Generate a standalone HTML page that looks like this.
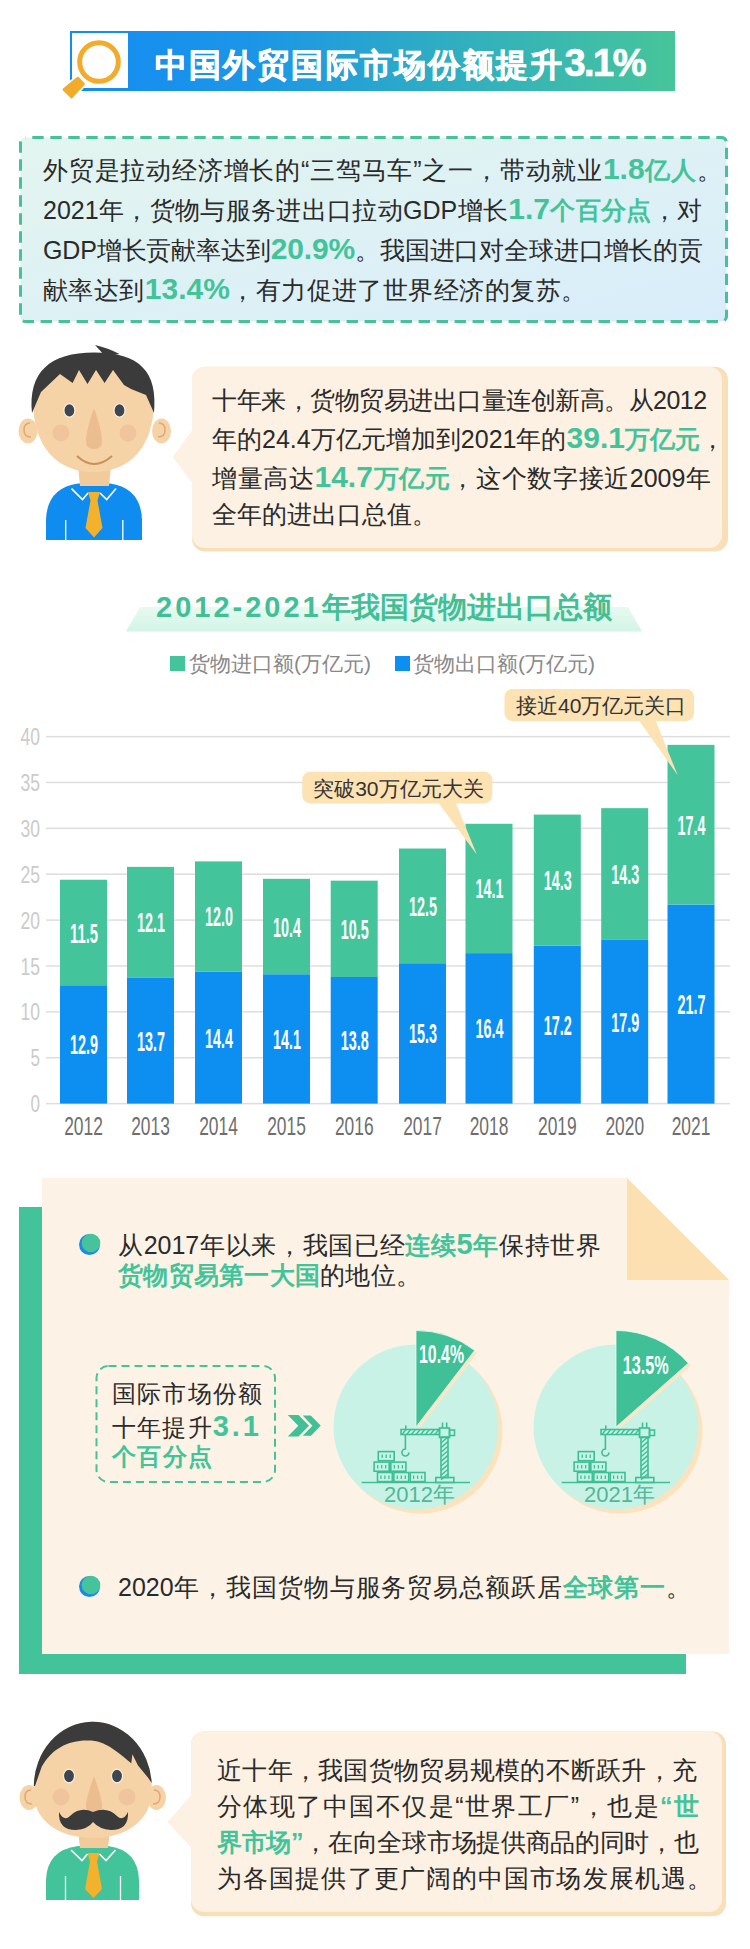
<!DOCTYPE html>
<html><head><meta charset="utf-8">
<style>
*{margin:0;padding:0;box-sizing:border-box}
html,body{width:750px;height:1949px;overflow:hidden;background:#fff}
body{position:relative;font-family:"Liberation Sans",sans-serif;color:#2a2a2a}
.abs{position:absolute}
.ln{position:absolute;white-space:nowrap;text-align:justify;text-align-last:justify;line-height:1}
.g{color:#43c39a;font-weight:bold}
svg text{font-family:"Liberation Sans",sans-serif}
</style></head><body>
<!-- TITLE -->
<div class="abs" style="left:70px;top:31px;width:605px;height:60px;background:linear-gradient(90deg,#138cf2 0%,#1c95e8 30%,#2eacc4 60%,#46c59a 100%)"></div>
<div class="abs" style="left:72px;top:33px;width:56px;height:55px;background:#fff"></div>
<svg class="abs" style="left:0;top:0" width="750" height="110">
  <polygon points="77.8,78 83.6,83.8 71.5,97.2 63.8,89.5" fill="#fff" stroke="#fff" stroke-width="6" stroke-linejoin="round"/>
  <polygon points="77.8,78 83.6,83.8 71.5,97.2 63.8,89.5" fill="#f2ab2a" stroke="#f2ab2a" stroke-width="2.5" stroke-linejoin="round"/>
  <circle cx="99" cy="62" r="19.3" fill="none" stroke="#f2ab2a" stroke-width="5"/>
</svg>
<div class="ln" style="left:155px;top:44px;width:490px;font-size:32px;font-weight:bold;color:#fff;-webkit-text-stroke:0.7px #fff">中国外贸国际市场份额提升<span style="font-size:38px;letter-spacing:-1.5px">3.1%</span></div>

<!-- BOX 1 -->
<svg class="abs" style="left:0;top:120px" width="750" height="220">
  <defs><linearGradient id="bg1" x1="0" y1="0" x2="1" y2="1"><stop offset="0" stop-color="#e3f5ef"/><stop offset="1" stop-color="#d8edfa"/></linearGradient></defs>
  <rect x="20.5" y="17.5" width="706" height="184" rx="5" fill="url(#bg1)" stroke="#46c29a" stroke-width="3" stroke-dasharray="11.4 6.6" stroke-dashoffset="-6.8"/>
</svg>
<div class="ln" style="left:43px;top:153.5px;width:679px;font-size:25px">外贸是拉动经济增长的“三驾马车”之一，带动就业<span class="g" style="font-size:30px">1.8</span><span class="g">亿人</span>。</div>
<div class="ln" style="left:43px;top:193.5px;width:659px;font-size:25px">2021年，货物与服务进出口拉动GDP增长<span class="g" style="font-size:30px">1.7</span><span class="g">个百分点</span>，对</div>
<div class="ln" style="left:43px;top:233.5px;width:660px;letter-spacing:-0.15px;font-size:25px">GDP增长贡献率达到<span class="g" style="font-size:30px">20.9%</span>。我国进口对全球进口增长的贡</div>
<div class="ln" style="left:43px;top:273.5px;width:543px;font-size:25px">献率达到<span class="g" style="font-size:30px">13.4%</span>，有力促进了世界经济的复苏。</div>
<!-- AVATAR 1 -->
<svg class="abs" style="left:0;top:330px" width="190" height="230" viewBox="0 330 190 230">
  <!-- shirt -->
  <path d="M46,540 L46,520 Q47,488 78,483.5 L110,483.5 Q141,488 142,520 L142,540 Z" fill="#0f8cf0"/>
  <path d="M78,466 L111,466 L109,486 L80,486 Z" fill="#f1cb9c"/>
  <path d="M71.5,488.6 L82.5,499.6 L88,493 M100,493 L106.7,499.6 L116,488.6" fill="none" stroke="#fff" stroke-width="1.6"/>
  <path d="M88,492 L100,492 L97.5,500.5 L102.5,528 L94,537.5 L85.5,528 L90.5,500.5 Z" fill="#f4b12c"/>
  <path d="M65.7,520 L65.7,540 M122.8,520 L122.8,540" stroke="#fff" stroke-width="1.3"/>
  <!-- ears -->
  <ellipse cx="28" cy="431" rx="9.5" ry="12.5" fill="#f6d3a6"/>
  <path d="M31,437 Q24,437 24,430 Q24,423 30,423" fill="none" stroke="#e0a878" stroke-width="1.5"/>
  <ellipse cx="161.5" cy="431" rx="9.5" ry="12.5" fill="#f6d3a6"/>
  <path d="M158,437 Q165,437 165,430 Q165,423 159,423" fill="none" stroke="#e0a878" stroke-width="1.5"/>
  <!-- face -->
  <path d="M33,400 C33,448 58,472 93.5,472 C129,472 154,448 154,400 C154,380 135,366 93.5,366 C52,366 33,380 33,400 Z" fill="#f6d3a6"/>
  <!-- hair -->
  <path d="M32,413 C28,372 50,352.5 94,352.5 C140,352.5 158,372 154,413 L146,395 L131,389 L124,385 L113,370 L104.6,383 L96,370 L87.5,384 L79,370 L72.6,383 L60,374 L41,392 Z" fill="#3b3b3b"/>
  <path d="M95,345 Q108,348 119.5,354 L105,356 Z" fill="#3b3b3b"/>
  <!-- eyes -->
  <ellipse cx="69.4" cy="410.4" rx="5.5" ry="6.8" fill="#3e4650" stroke="#fdf0e0" stroke-width="1.2"/>
  <ellipse cx="119.5" cy="410.4" rx="5.5" ry="6.8" fill="#3e4650" stroke="#fdf0e0" stroke-width="1.2"/>
  <!-- cheeks -->
  <circle cx="61" cy="433" r="8.5" fill="#f0c49c"/>
  <circle cx="128" cy="433" r="8.5" fill="#f0c49c"/>
  <!-- nose -->
  <path d="M94,408 Q86,430 86,441 Q86,449 94,449 Q102,449 102,441 Q102,430 94,408 Z" fill="#ebbd8f"/>
  <!-- mouth -->
  <path d="M77,456 Q94,472 112,456" fill="none" stroke="#c8905a" stroke-width="2"/>
</svg>

<!-- BUBBLE 1 -->
<svg class="abs" style="left:160px;top:355px" width="580" height="210" viewBox="160 355 580 210">
  <rect x="192" y="366.8" width="536" height="184.8" rx="13" fill="#f8dfb8"/>
  <rect x="192" y="366.8" width="530" height="181.2" rx="13" fill="#fcf1e3"/>
  <polygon points="192,432 174,457 192,481" fill="#fcf1e3" stroke="#fcf1e3" stroke-width="2" stroke-linejoin="round"/>
</svg>
<div class="ln" style="left:212px;top:388px;width:494px;letter-spacing:-0.5px;font-size:25px">十年来，货物贸易进出口量连创新高。从2012</div>
<div class="ln" style="left:212px;top:423px;width:513px;font-size:25px">年的24.4万亿元增加到2021年的<span class="g" style="font-size:30px">39.1</span><span class="g">万亿元</span>，</div>
<div class="ln" style="left:212px;top:462px;width:499px;font-size:25px">增量高达<span class="g" style="font-size:30px">14.7</span><span class="g">万亿元</span>，这个数字接近2009年</div>
<div class="ln" style="left:212px;top:502px;width:225px;font-size:25px">全年的进出口总值。</div>

<!-- CHART TITLE -->
<svg class="abs" style="left:0;top:590px" width="750" height="50" viewBox="0 590 750 50">
  <defs><linearGradient id="bnd" x1="0" y1="0" x2="0" y2="1"><stop offset="0" stop-color="#e6faf2"/><stop offset="1" stop-color="#d3f4e6"/></linearGradient></defs>
  <polygon points="140,607 628,607 642,631.5 126,631.5" fill="url(#bnd)"/>
</svg>
<div class="ln" style="left:156px;top:592.5px;width:456px;font-size:29px;font-weight:bold;color:#43bf95"><span style="letter-spacing:3px">2012-2021</span>年我国货物进出口总额</div>
<div class="abs" style="left:170px;top:656px;width:15px;height:15px;background:#44c49b"></div>
<div class="ln" style="left:189px;top:653px;width:182px;font-size:21px;color:#888">货物进口额(万亿元)</div>
<div class="abs" style="left:395px;top:656px;width:15px;height:15px;background:#0d8ff2"></div>
<div class="ln" style="left:413px;top:653px;width:182px;font-size:21px;color:#888">货物出口额(万亿元)</div>
<svg class="abs" style="left:0;top:0" width="750" height="1160" viewBox="0 0 750 1160">
<rect x="46" y="1102.85" width="684" height="1.5" fill="#dedede"/>
<rect x="46" y="1056.97" width="684" height="1.5" fill="#dedede"/>
<rect x="46" y="1011.10" width="684" height="1.5" fill="#dedede"/>
<rect x="46" y="965.22" width="684" height="1.5" fill="#dedede"/>
<rect x="46" y="919.35" width="684" height="1.5" fill="#dedede"/>
<rect x="46" y="873.47" width="684" height="1.5" fill="#dedede"/>
<rect x="46" y="827.60" width="684" height="1.5" fill="#dedede"/>
<rect x="46" y="781.72" width="684" height="1.5" fill="#dedede"/>
<rect x="46" y="735.85" width="684" height="1.5" fill="#dedede"/>
<text x="30.5" y="1112.1" font-size="24" fill="#cbcbcb" textLength="9.5" lengthAdjust="spacingAndGlyphs">0</text>
<text x="30.5" y="1066.2" font-size="24" fill="#cbcbcb" textLength="9.5" lengthAdjust="spacingAndGlyphs">5</text>
<text x="20.5" y="1020.3" font-size="24" fill="#cbcbcb" textLength="19.5" lengthAdjust="spacingAndGlyphs">10</text>
<text x="20.5" y="974.5" font-size="24" fill="#cbcbcb" textLength="19.5" lengthAdjust="spacingAndGlyphs">15</text>
<text x="20.5" y="928.6" font-size="24" fill="#cbcbcb" textLength="19.5" lengthAdjust="spacingAndGlyphs">20</text>
<text x="20.5" y="882.7" font-size="24" fill="#cbcbcb" textLength="19.5" lengthAdjust="spacingAndGlyphs">25</text>
<text x="20.5" y="836.8" font-size="24" fill="#cbcbcb" textLength="19.5" lengthAdjust="spacingAndGlyphs">30</text>
<text x="20.5" y="791.0" font-size="24" fill="#cbcbcb" textLength="19.5" lengthAdjust="spacingAndGlyphs">35</text>
<text x="20.5" y="745.1" font-size="24" fill="#cbcbcb" textLength="19.5" lengthAdjust="spacingAndGlyphs">40</text>
<rect x="60.00" y="985.24" width="47" height="118.36" fill="#0d8ff2"/>
<rect x="60.00" y="879.73" width="47" height="105.51" fill="#44c49b"/>
<text x="70.0" y="1054.4" font-size="28" font-weight="bold" fill="#fff" textLength="28" lengthAdjust="spacingAndGlyphs">12.9</text>
<text x="70.0" y="942.5" font-size="28" font-weight="bold" fill="#fff" textLength="28" lengthAdjust="spacingAndGlyphs">11.5</text>
<text x="64.2" y="1134.8" font-size="26.5" fill="#6e6e6e" textLength="38.7" lengthAdjust="spacingAndGlyphs">2012</text>
<rect x="127.00" y="977.90" width="47" height="125.70" fill="#0d8ff2"/>
<rect x="127.00" y="866.88" width="47" height="111.02" fill="#44c49b"/>
<text x="137.0" y="1050.8" font-size="28" font-weight="bold" fill="#fff" textLength="28" lengthAdjust="spacingAndGlyphs">13.7</text>
<text x="137.0" y="932.4" font-size="28" font-weight="bold" fill="#fff" textLength="28" lengthAdjust="spacingAndGlyphs">12.1</text>
<text x="131.2" y="1134.8" font-size="26.5" fill="#6e6e6e" textLength="38.7" lengthAdjust="spacingAndGlyphs">2013</text>
<rect x="195.00" y="971.48" width="47" height="132.12" fill="#0d8ff2"/>
<rect x="195.00" y="861.38" width="47" height="110.10" fill="#44c49b"/>
<text x="205.0" y="1047.5" font-size="28" font-weight="bold" fill="#fff" textLength="28" lengthAdjust="spacingAndGlyphs">14.4</text>
<text x="205.0" y="926.4" font-size="28" font-weight="bold" fill="#fff" textLength="28" lengthAdjust="spacingAndGlyphs">12.0</text>
<text x="199.2" y="1134.8" font-size="26.5" fill="#6e6e6e" textLength="38.7" lengthAdjust="spacingAndGlyphs">2014</text>
<rect x="263.00" y="974.23" width="47" height="129.37" fill="#0d8ff2"/>
<rect x="263.00" y="878.81" width="47" height="95.42" fill="#44c49b"/>
<text x="273.0" y="1048.9" font-size="28" font-weight="bold" fill="#fff" textLength="28" lengthAdjust="spacingAndGlyphs">14.1</text>
<text x="273.0" y="936.5" font-size="28" font-weight="bold" fill="#fff" textLength="28" lengthAdjust="spacingAndGlyphs">10.4</text>
<text x="267.2" y="1134.8" font-size="26.5" fill="#6e6e6e" textLength="38.7" lengthAdjust="spacingAndGlyphs">2015</text>
<rect x="330.70" y="976.98" width="47" height="126.62" fill="#0d8ff2"/>
<rect x="330.70" y="880.65" width="47" height="96.34" fill="#44c49b"/>
<text x="340.7" y="1050.3" font-size="28" font-weight="bold" fill="#fff" textLength="28" lengthAdjust="spacingAndGlyphs">13.8</text>
<text x="340.7" y="938.8" font-size="28" font-weight="bold" fill="#fff" textLength="28" lengthAdjust="spacingAndGlyphs">10.5</text>
<text x="334.9" y="1134.8" font-size="26.5" fill="#6e6e6e" textLength="38.7" lengthAdjust="spacingAndGlyphs">2016</text>
<rect x="399.00" y="963.22" width="47" height="140.38" fill="#0d8ff2"/>
<rect x="399.00" y="848.53" width="47" height="114.69" fill="#44c49b"/>
<text x="409.0" y="1043.4" font-size="28" font-weight="bold" fill="#fff" textLength="28" lengthAdjust="spacingAndGlyphs">15.3</text>
<text x="409.0" y="915.9" font-size="28" font-weight="bold" fill="#fff" textLength="28" lengthAdjust="spacingAndGlyphs">12.5</text>
<text x="403.2" y="1134.8" font-size="26.5" fill="#6e6e6e" textLength="38.7" lengthAdjust="spacingAndGlyphs">2017</text>
<rect x="465.50" y="953.13" width="47" height="150.47" fill="#0d8ff2"/>
<rect x="465.50" y="823.76" width="47" height="129.37" fill="#44c49b"/>
<text x="475.5" y="1038.4" font-size="28" font-weight="bold" fill="#fff" textLength="28" lengthAdjust="spacingAndGlyphs">16.4</text>
<text x="475.5" y="898.4" font-size="28" font-weight="bold" fill="#fff" textLength="28" lengthAdjust="spacingAndGlyphs">14.1</text>
<text x="469.7" y="1134.8" font-size="26.5" fill="#6e6e6e" textLength="38.7" lengthAdjust="spacingAndGlyphs">2018</text>
<rect x="533.80" y="945.79" width="47" height="157.81" fill="#0d8ff2"/>
<rect x="533.80" y="814.59" width="47" height="131.20" fill="#44c49b"/>
<text x="543.8" y="1034.7" font-size="28" font-weight="bold" fill="#fff" textLength="28" lengthAdjust="spacingAndGlyphs">17.2</text>
<text x="543.8" y="890.2" font-size="28" font-weight="bold" fill="#fff" textLength="28" lengthAdjust="spacingAndGlyphs">14.3</text>
<text x="538.0" y="1134.8" font-size="26.5" fill="#6e6e6e" textLength="38.7" lengthAdjust="spacingAndGlyphs">2019</text>
<rect x="601.20" y="939.37" width="47" height="164.23" fill="#0d8ff2"/>
<rect x="601.20" y="808.16" width="47" height="131.20" fill="#44c49b"/>
<text x="611.2" y="1031.5" font-size="28" font-weight="bold" fill="#fff" textLength="28" lengthAdjust="spacingAndGlyphs">17.9</text>
<text x="611.2" y="883.8" font-size="28" font-weight="bold" fill="#fff" textLength="28" lengthAdjust="spacingAndGlyphs">14.3</text>
<text x="605.4" y="1134.8" font-size="26.5" fill="#6e6e6e" textLength="38.7" lengthAdjust="spacingAndGlyphs">2020</text>
<rect x="667.50" y="904.50" width="47" height="199.10" fill="#0d8ff2"/>
<rect x="667.50" y="744.86" width="47" height="159.64" fill="#44c49b"/>
<text x="677.5" y="1014.1" font-size="28" font-weight="bold" fill="#fff" textLength="28" lengthAdjust="spacingAndGlyphs">21.7</text>
<text x="677.5" y="834.7" font-size="28" font-weight="bold" fill="#fff" textLength="28" lengthAdjust="spacingAndGlyphs">17.4</text>
<text x="671.7" y="1134.8" font-size="26.5" fill="#6e6e6e" textLength="38.7" lengthAdjust="spacingAndGlyphs">2021</text>
<rect x="504.5" y="689" width="189.5" height="32" rx="8" fill="#fde2b4"/>
<polygon points="638,719 655,719 677.7,775.3" fill="#fde2b4"/>
<rect x="302.3" y="771.7" width="190" height="31.7" rx="8" fill="#fde2b4"/>
<polygon points="437,801 455,801 476.8,854.4" fill="#fde2b4"/>
</svg>
<div class="ln" style="left:516px;top:695px;width:170px;font-size:21px;color:#333">接近40万亿元关口</div>
<div class="ln" style="left:313px;top:778px;width:171px;font-size:21px;color:#333">突破30万亿元大关</div>
<svg class="abs" style="left:0;top:1170px" width="750" height="520" viewBox="0 1170 750 520">
<polygon points="19,1207 42,1207 42,1654 686,1654 686,1674 19,1674" fill="#43c39a"/>
<polygon points="42,1178 627,1178 729,1280 729,1654 42,1654" fill="#fcf3e6"/>
<polygon points="627,1178 627,1280 729,1280" fill="#fde0b1"/>
<circle cx="89.5" cy="1244.5" r="10.5" fill="#1a8ae6"/>
<circle cx="91" cy="1243" r="9.3" fill="#45c39a"/>
<circle cx="89.5" cy="1586.5" r="10.5" fill="#1a8ae6"/>
<circle cx="91" cy="1585" r="9.3" fill="#45c39a"/>
<rect x="96.5" y="1366" width="178.5" height="116" rx="12" fill="none" stroke="#46c29a" stroke-width="2" stroke-dasharray="8 5"/>
<path d="M287.8,1415 H298.5 L309,1425.7 L298.5,1436.4 H287.8 L298.3,1425.7 Z" fill="#3fc096"/><path d="M301.3,1415 H311.2 L321.5,1425.7 L311.2,1436.4 H301.3 L311.6,1425.7 Z" fill="#3fc096" stroke="#fcf3e6" stroke-width="1.2"/>
<circle cx="420" cy="1431" r="82.5" fill="#fde3bd"/>
<circle cx="416" cy="1427" r="82.5" fill="#c9f2e6"/>
<path d="M418.5,1429.5 L418.5,1333.0 A96.5,96.5 0 0 1 477.17,1352.88 Z" fill="#fde6c4"/>
<path d="M416,1427 L416,1330.5 A96.5,96.5 0 0 1 474.67,1350.38 Z" fill="#3fc096" stroke="#e8fbf4" stroke-width="0.8"/>
<g transform="translate(0,0)" fill="none" stroke="#3cbf94" stroke-width="1.6">
<path d="M361.7,1482.5 H470"/>
<rect x="377.5" y="1472.5" width="14.8" height="9.1"/>
<path d="M380.9,1475.5 v3.4" stroke-width="1.3"/>
<path d="M384.9,1475.5 v3.4" stroke-width="1.3"/>
<path d="M388.9,1475.5 v3.4" stroke-width="1.3"/>
<rect x="393.9" y="1472.5" width="14.8" height="9.1"/>
<path d="M397.3,1475.5 v3.4" stroke-width="1.3"/>
<path d="M401.3,1475.5 v3.4" stroke-width="1.3"/>
<path d="M405.3,1475.5 v3.4" stroke-width="1.3"/>
<rect x="410.2" y="1472.5" width="14.8" height="9.1"/>
<path d="M413.6,1475.5 v3.4" stroke-width="1.3"/>
<path d="M417.6,1475.5 v3.4" stroke-width="1.3"/>
<path d="M421.6,1475.5 v3.4" stroke-width="1.3"/>
<rect x="374.1" y="1462.1" width="15.1" height="9.1"/>
<path d="M377.7,1465.1 v3.4" stroke-width="1.3"/>
<path d="M381.7,1465.1 v3.4" stroke-width="1.3"/>
<path d="M385.7,1465.1 v3.4" stroke-width="1.3"/>
<rect x="390.8" y="1462.1" width="15.1" height="9.1"/>
<path d="M394.4,1465.1 v3.4" stroke-width="1.3"/>
<path d="M398.4,1465.1 v3.4" stroke-width="1.3"/>
<path d="M402.4,1465.1 v3.4" stroke-width="1.3"/>
<rect x="378.3" y="1451.6" width="15.9" height="9.1"/>
<path d="M382.2,1454.6 v3.4" stroke-width="1.3"/>
<path d="M386.2,1454.6 v3.4" stroke-width="1.3"/>
<path d="M390.2,1454.6 v3.4" stroke-width="1.3"/>
<rect x="441" y="1437" width="7" height="40.5"/>
<path d="M441,1443.0 L448,1437.0" stroke-width="1.4"/>
<path d="M441,1447.6 L448,1441.6" stroke-width="1.4"/>
<path d="M441,1452.2 L448,1446.2" stroke-width="1.4"/>
<path d="M441,1456.8 L448,1450.8" stroke-width="1.4"/>
<path d="M441,1461.4 L448,1455.4" stroke-width="1.4"/>
<path d="M441,1466.0 L448,1460.0" stroke-width="1.4"/>
<path d="M441,1470.6 L448,1464.6" stroke-width="1.4"/>
<path d="M441,1475.2 L448,1469.2" stroke-width="1.4"/>
<path d="M441,1479.8 L448,1473.8" stroke-width="1.4"/>
<rect x="435.8" y="1477.5" width="18" height="5"/>
<rect x="439.5" y="1428" width="10" height="9.5"/>
<rect x="449.5" y="1430" width="5" height="5.5"/>
<path d="M442.5,1422.5 V1428 M446.7,1422.5 V1428"/>
<rect x="401" y="1429.5" width="38.5" height="5"/>
<path d="M402.0,1434.5 L406.0,1429.5" stroke-width="1.3"/>
<path d="M406.7,1434.5 L410.7,1429.5" stroke-width="1.3"/>
<path d="M411.4,1434.5 L415.4,1429.5" stroke-width="1.3"/>
<path d="M416.1,1434.5 L420.1,1429.5" stroke-width="1.3"/>
<path d="M420.8,1434.5 L424.8,1429.5" stroke-width="1.3"/>
<path d="M425.5,1434.5 L429.5,1429.5" stroke-width="1.3"/>
<path d="M430.2,1434.5 L434.2,1429.5" stroke-width="1.3"/>
<path d="M434.9,1434.5 L438.9,1429.5" stroke-width="1.3"/>
<path d="M405.8,1425.5 V1429.5"/>
<path d="M405.4,1434.5 V1449 A3.5,3.5 0 1 0 408.9,1452.5"/>
</g>
<circle cx="620" cy="1431" r="82.5" fill="#fde3bd"/>
<circle cx="616" cy="1427" r="82.5" fill="#c9f2e6"/>
<path d="M618.5,1429.5 L618.5,1333.0 A96.5,96.5 0 0 1 690.89,1365.68 Z" fill="#fde6c4"/>
<path d="M616,1427 L616,1330.5 A96.5,96.5 0 0 1 688.39,1363.18 Z" fill="#3fc096" stroke="#e8fbf4" stroke-width="0.8"/>
<g transform="translate(200,0)" fill="none" stroke="#3cbf94" stroke-width="1.6">
<path d="M361.7,1482.5 H470"/>
<rect x="377.5" y="1472.5" width="14.8" height="9.1"/>
<path d="M380.9,1475.5 v3.4" stroke-width="1.3"/>
<path d="M384.9,1475.5 v3.4" stroke-width="1.3"/>
<path d="M388.9,1475.5 v3.4" stroke-width="1.3"/>
<rect x="393.9" y="1472.5" width="14.8" height="9.1"/>
<path d="M397.3,1475.5 v3.4" stroke-width="1.3"/>
<path d="M401.3,1475.5 v3.4" stroke-width="1.3"/>
<path d="M405.3,1475.5 v3.4" stroke-width="1.3"/>
<rect x="410.2" y="1472.5" width="14.8" height="9.1"/>
<path d="M413.6,1475.5 v3.4" stroke-width="1.3"/>
<path d="M417.6,1475.5 v3.4" stroke-width="1.3"/>
<path d="M421.6,1475.5 v3.4" stroke-width="1.3"/>
<rect x="374.1" y="1462.1" width="15.1" height="9.1"/>
<path d="M377.7,1465.1 v3.4" stroke-width="1.3"/>
<path d="M381.7,1465.1 v3.4" stroke-width="1.3"/>
<path d="M385.7,1465.1 v3.4" stroke-width="1.3"/>
<rect x="390.8" y="1462.1" width="15.1" height="9.1"/>
<path d="M394.4,1465.1 v3.4" stroke-width="1.3"/>
<path d="M398.4,1465.1 v3.4" stroke-width="1.3"/>
<path d="M402.4,1465.1 v3.4" stroke-width="1.3"/>
<rect x="378.3" y="1451.6" width="15.9" height="9.1"/>
<path d="M382.2,1454.6 v3.4" stroke-width="1.3"/>
<path d="M386.2,1454.6 v3.4" stroke-width="1.3"/>
<path d="M390.2,1454.6 v3.4" stroke-width="1.3"/>
<rect x="441" y="1437" width="7" height="40.5"/>
<path d="M441,1443.0 L448,1437.0" stroke-width="1.4"/>
<path d="M441,1447.6 L448,1441.6" stroke-width="1.4"/>
<path d="M441,1452.2 L448,1446.2" stroke-width="1.4"/>
<path d="M441,1456.8 L448,1450.8" stroke-width="1.4"/>
<path d="M441,1461.4 L448,1455.4" stroke-width="1.4"/>
<path d="M441,1466.0 L448,1460.0" stroke-width="1.4"/>
<path d="M441,1470.6 L448,1464.6" stroke-width="1.4"/>
<path d="M441,1475.2 L448,1469.2" stroke-width="1.4"/>
<path d="M441,1479.8 L448,1473.8" stroke-width="1.4"/>
<rect x="435.8" y="1477.5" width="18" height="5"/>
<rect x="439.5" y="1428" width="10" height="9.5"/>
<rect x="449.5" y="1430" width="5" height="5.5"/>
<path d="M442.5,1422.5 V1428 M446.7,1422.5 V1428"/>
<rect x="401" y="1429.5" width="38.5" height="5"/>
<path d="M402.0,1434.5 L406.0,1429.5" stroke-width="1.3"/>
<path d="M406.7,1434.5 L410.7,1429.5" stroke-width="1.3"/>
<path d="M411.4,1434.5 L415.4,1429.5" stroke-width="1.3"/>
<path d="M416.1,1434.5 L420.1,1429.5" stroke-width="1.3"/>
<path d="M420.8,1434.5 L424.8,1429.5" stroke-width="1.3"/>
<path d="M425.5,1434.5 L429.5,1429.5" stroke-width="1.3"/>
<path d="M430.2,1434.5 L434.2,1429.5" stroke-width="1.3"/>
<path d="M434.9,1434.5 L438.9,1429.5" stroke-width="1.3"/>
<path d="M405.8,1425.5 V1429.5"/>
<path d="M405.4,1434.5 V1449 A3.5,3.5 0 1 0 408.9,1452.5"/>
</g>
<text x="419" y="1362.5" font-size="25" font-weight="bold" fill="#fff" textLength="45" lengthAdjust="spacingAndGlyphs">10.4%</text>
<text x="622.7" y="1373.5" font-size="25" font-weight="bold" fill="#fff" textLength="46" lengthAdjust="spacingAndGlyphs">13.5%</text>
</svg>
<div class="ln" style="left:118px;top:1229.5px;width:483px;font-size:25px">从2017年以来，我国已经<span class="g">连续</span><span class="g" style="font-size:29px">5</span><span class="g">年</span>保持世界</div>
<div class="ln" style="left:118px;top:1263px;width:303px;font-size:25px"><span class="g">货物贸易第一大国</span>的地位。</div>
<div class="ln" style="left:112px;top:1382px;width:150px;font-size:24px">国际市场份额</div>
<div class="ln" style="left:112px;top:1411.5px;width:150px;font-size:24px">十年提升<span class="g" style="font-size:29px;letter-spacing:3px">3.1</span></div>
<div class="ln" style="left:112px;top:1445px;width:100px;font-size:24px"><span class="g">个百分点</span></div>
<div class="ln" style="left:384px;top:1484px;width:68px;font-size:22px;color:#4fb898">2012年</div>
<div class="ln" style="left:584px;top:1484px;width:68px;font-size:22px;color:#4fb898">2021年</div>
<div class="ln" style="left:118px;top:1575px;width:573px;font-size:25px">2020年，我国货物与服务贸易总额跃居<span class="g">全球第一</span>。</div>
<!-- AVATAR 2 -->
<svg class="abs" style="left:0;top:1700px" width="190" height="230" viewBox="0 1700 190 230">
  <path d="M46,1900 L46,1880 Q47,1850 78,1846 L108,1846 Q138,1850 139,1880 L139,1900 Z" fill="#43c39a"/>
  <path d="M78,1830 L110,1830 L108,1848 L80,1848 Z" fill="#f1cb9c"/>
  <path d="M71,1850 L82,1860.5 L87.5,1854 M99.5,1854 L106,1860.5 L115.5,1850" fill="none" stroke="#fff" stroke-width="1.6"/>
  <path d="M87.5,1853 L99.5,1853 L97,1861.5 L102,1889 L93.5,1898 L85,1889 L90,1861.5 Z" fill="#f4b12c"/>
  <path d="M65.5,1876 L65.5,1900 M120.5,1876 L120.5,1900" stroke="#fff" stroke-width="1.3"/>
  <ellipse cx="29" cy="1797.5" rx="9.5" ry="12.5" fill="#f6d3a6"/>
  <path d="M32,1804 Q25,1804 25,1797 Q25,1790 31,1790" fill="none" stroke="#e0a878" stroke-width="1.5"/>
  <ellipse cx="156.5" cy="1797.5" rx="9.5" ry="12.5" fill="#f6d3a6"/>
  <path d="M153,1804 Q160,1804 160,1797 Q160,1790 154,1790" fill="none" stroke="#e0a878" stroke-width="1.5"/>
  <path d="M33.8,1786 A59,65 0 0 1 151.7,1783 L151.9,1790 C151.7,1820 127,1838 92.3,1838 C58,1838 33,1820 33.2,1790 Z" fill="#f6d3a6"/>
  <path d="M33.8,1786 A59,65 0 0 1 151.7,1783 L148.3,1778 L138,1765.6 L132.4,1754.2 L131.3,1763.3 C122,1756 108,1742 91.6,1740.6 C70,1739 52,1748 41.7,1766.7 L35,1786 Z" fill="#3b3b3b"/>
  <ellipse cx="69" cy="1776" rx="5.5" ry="6.8" fill="#3e4650" stroke="#fdf0e0" stroke-width="1.2"/>
  <ellipse cx="117" cy="1776" rx="5.5" ry="6.8" fill="#3e4650" stroke="#fdf0e0" stroke-width="1.2"/>
  <circle cx="61" cy="1797" r="8.5" fill="#f0c49c"/>
  <circle cx="127" cy="1797" r="8.5" fill="#f0c49c"/>
  <path d="M94,1776 Q86,1798 86,1806 Q86,1813 94,1813 Q102,1813 102,1806 Q102,1798 94,1776 Z" fill="#ebbd8f"/>
  <path d="M93,1812 Q80,1806 70,1816 Q64,1822 59,1812 Q58,1830 76,1830 Q88,1829 93,1822 Q99,1829 111,1830 Q129,1830 128,1812 Q123,1822 117,1816 Q107,1806 93,1812 Z" fill="#3b3b3b"/>
</svg>

<!-- BUBBLE 2 -->
<svg class="abs" style="left:160px;top:1720px" width="580" height="210" viewBox="160 1720 580 210">
  <rect x="191" y="1731.4" width="535" height="184.8" rx="13" fill="#f8dfb8"/>
  <rect x="191" y="1731.4" width="531" height="180.6" rx="13" fill="#fcf1e3"/>
  <polygon points="191,1797 169,1822 191,1846" fill="#fcf1e3" stroke="#fcf1e3" stroke-width="2" stroke-linejoin="round"/>
</svg>
<div class="ln" style="left:217px;top:1758px;width:480px;font-size:25px">近十年，我国货物贸易规模的不断跃升，充</div>
<div class="ln" style="left:217px;top:1794px;width:482px;font-size:25px">分体现了中国不仅是“世界工厂”，也是<span class="g">“世</span></div>
<div class="ln" style="left:217px;top:1830px;width:481px;letter-spacing:-0.3px;font-size:25px"><span class="g">界市场”</span>，在向全球市场提供商品的同时，也</div>
<div class="ln" style="left:217px;top:1866px;width:495px;font-size:25px">为各国提供了更广阔的中国市场发展机遇。</div>
</body></html>
